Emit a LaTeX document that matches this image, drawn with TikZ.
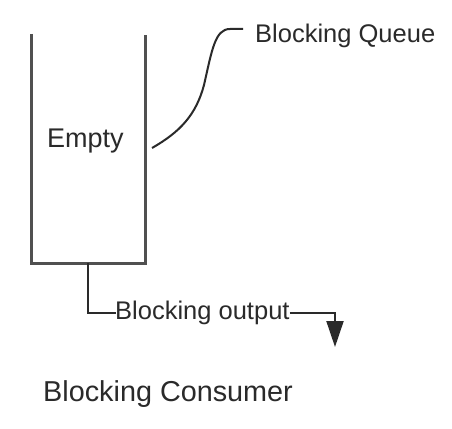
\documentclass[tikz,border=0pt]{standalone}
\usepackage{fontspec}
\setmainfont{Liberation Sans}
\usetikzlibrary{arrows.meta}
\definecolor{wallgray}{HTML}{505050}
\definecolor{inkgray}{HTML}{2A2A2A}
\tikzset{
  wall/.style={draw=wallgray, line width=3pt, line join=miter},
  conn/.style={draw=inkgray, line width=2pt},
  lbl/.style={inner sep=0pt, text=inkgray, font=\fontsize{25.5}{30}\selectfont},
}
\begin{document}
\begin{tikzpicture}[x=1pt,y=-1pt]
\useasboundingbox[fill=white] (0,0) rectangle (452,428);
% queue container
\coordinate (qtl) at (31,34);
\coordinate (qbl) at (31,263);
\coordinate (qbr) at (145,263);
\coordinate (qtr) at (145,35);
\draw[wall] (qtl) -- (qbl) -- (qbr) -- (qtr);
\node[lbl, anchor=base west, font=\fontsize{27}{32}\selectfont] (empty) at (47,147) {Empty};
% queue label
\node[lbl, anchor=base west] (bq) at (255,43) {Blocking Queue};
\coordinate (qside) at (152,148);
\coordinate (bqend) at (243,29);
\draw[conn] (qside) .. controls (180,132) and (196,115) .. (204,85)
  .. controls (212,50) and (215,29) .. (230,29) -- (bqend);
% output
\coordinate (qout) at (88,263);
\node[lbl, anchor=base west] (bout) at (115,319) {Blocking output};
\coordinate (corner) at (335,313);
\coordinate (tip) at (335,347);
\draw[conn] (qout) |- (bout.west |- corner) -- (bout.west);
\draw[conn, -{Triangle[length=26pt,width=17pt]}] (bout.east |- corner) -- (corner) -- (tip);
% consumer
\node[lbl, anchor=base west, font=\fontsize{28.8}{34}\selectfont] (cons) at (43,401) {Blocking Consumer};
\end{tikzpicture}
\end{document}
